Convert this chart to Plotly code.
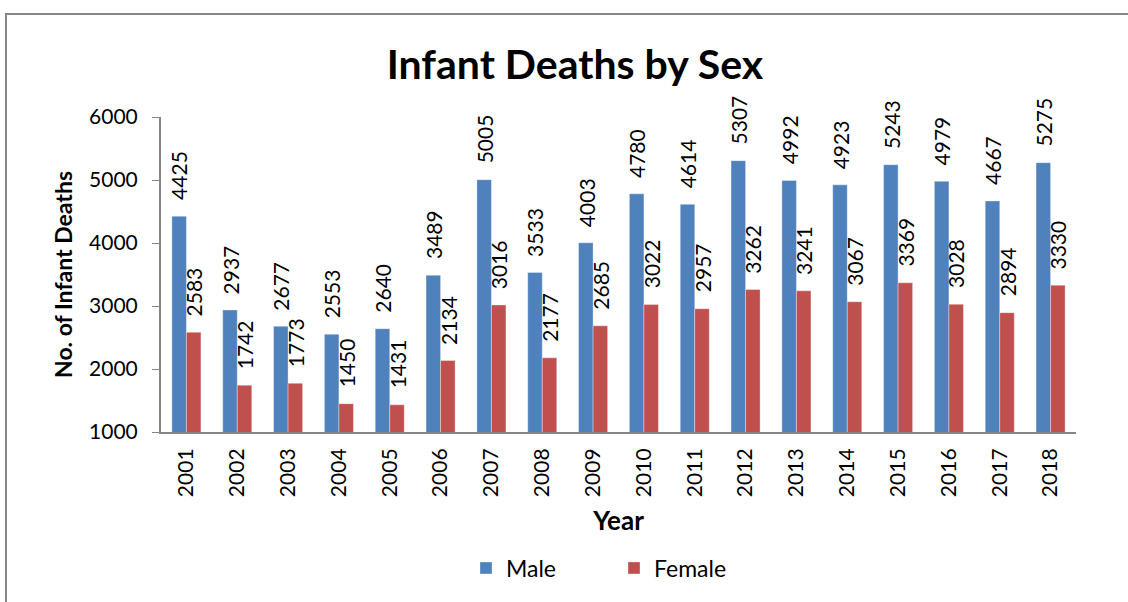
import plotly.graph_objects as go

years = ["2001", "2002", "2003", "2004", "2005", "2006", "2007", "2008", "2009",
         "2010", "2011", "2012", "2013", "2014", "2015", "2016", "2017", "2018"]
male = [4425, 2937, 2677, 2553, 2640, 3489, 5005, 3533, 4003,
        4780, 4614, 5307, 4992, 4923, 5243, 4979, 4667, 5275]
female = [2583, 1742, 1773, 1450, 1431, 2134, 3016, 2177, 2685,
          3022, 2957, 3262, 3241, 3067, 3369, 3028, 2894, 3330]

FONT = "Lato"
W, H = 1128, 602
ML, MR, MT, MB = 161, 52, 117, 170
PW, PH = W - ML - MR, H - MT - MB
BARW = PW / len(years) / 3.5  # Excel gap width 150%

def px_x(x):
    return (x - ML) / PW

def px_y(y):
    return (H - MB - y) / PH

fig = go.Figure()
annots = []
series = [("Male", male, "#4F81BD", -0.5), ("Female", female, "#C0504D", 0.5)]
for name, vals, col, off in series:
    fig.add_trace(go.Bar(
        x=years, y=vals, name=name,
        marker=dict(color=col, line=dict(color="rgba(255,255,255,0.35)", width=1)),
    ))
    for i, v in enumerate(vals):
        annots.append(dict(x=i, y=v, xref="x", yref="y", text=str(v), showarrow=False,
                           textangle=-90, xanchor="center", yanchor="bottom",
                           xshift=off * BARW, yshift=14,
                           font=dict(family=FONT, size=21, color="#000000")))

fig.update_layout(
    width=W, height=H,
    margin=dict(l=ML, r=MR, t=MT, b=MB),
    paper_bgcolor="white", plot_bgcolor="white",
    barmode="group", bargap=1.5 / 3.5, bargroupgap=0,
    title=dict(text="<b>Infant Deaths by Sex</b>", x=px_x(575), xanchor="center",
               xref="paper", y=1 - 65 / H, yanchor="middle",
               font=dict(family=FONT, size=41, color="#000000")),
    font=dict(family=FONT, color="#000000"),
    showlegend=True,
    legend=dict(orientation="h", x=px_x(614), xanchor="center", y=px_y(568), yanchor="middle",
                font=dict(family=FONT, size=23, color="#000000"), entrywidth=103,
                traceorder="normal"),
    annotations=annots,
    xaxis=dict(type="category", range=[-0.5, len(years) - 0.5], showline=True,
               linecolor="#868686", linewidth=2, ticks="",
               tickangle=-90, ticklabelstandoff=6,
               tickfont=dict(family=FONT, size=21, color="#000000"),
               title=dict(text="<b>Year</b>", font=dict(family=FONT, size=26, color="#000000"),
                          standoff=16),
               showgrid=False, zeroline=False),
    yaxis=dict(range=[1000, 6000], tickvals=[1000, 2000, 3000, 4000, 5000, 6000],
               showline=True, linecolor="#868686", linewidth=2, ticks="outside", ticklen=7,
               tickcolor="#868686", tickwidth=1, ticklabelstandoff=10,
               tickfont=dict(family=FONT, size=21, color="#000000"),
               title=dict(text="<b>No. of Infant Deaths</b>",
                          font=dict(family=FONT, size=23, color="#000000"), standoff=10),
               showgrid=False, zeroline=False),
    shapes=[dict(type="rect", xref="paper", yref="paper",
                 x0=px_x(6), x1=px_x(W + 5), y0=px_y(H + 5), y1=px_y(14),
                 line=dict(color="#868686", width=2), fillcolor="rgba(0,0,0,0)", layer="below")],
)

fig.write_html("out.html", config={"displayModeBar": False},
               post_script="document.body.style.margin='0';")
